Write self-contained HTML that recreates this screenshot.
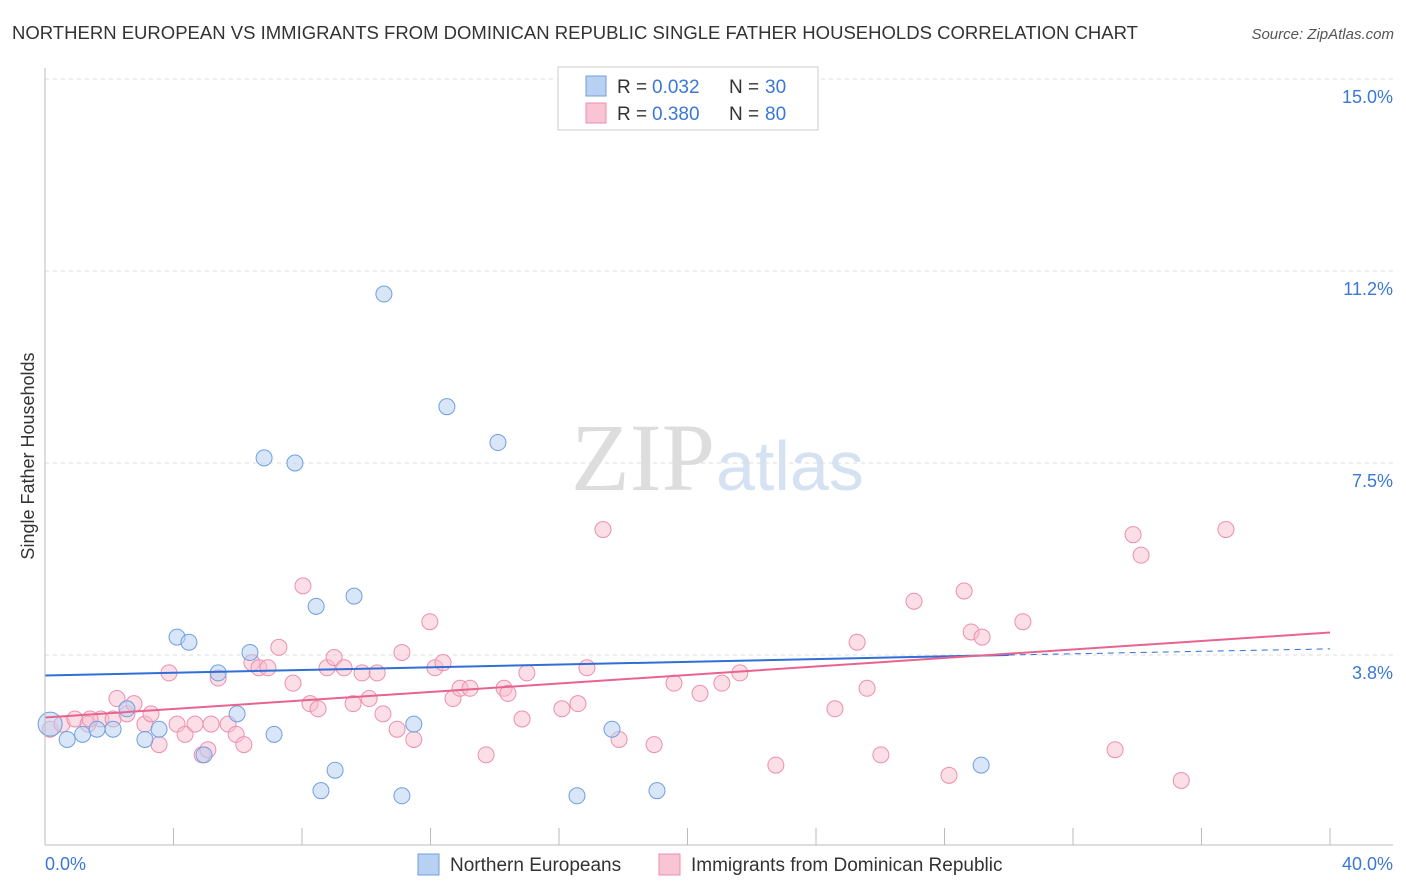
<!DOCTYPE html>
<html><head><meta charset="utf-8"><style>
body{margin:0;background:#fff;font-family:"Liberation Sans",sans-serif;}
#wrap{position:relative;width:1406px;height:892px;overflow:hidden;}
</style></head><body>
<div id="wrap">
<svg id="svg" width="1406" height="892" xmlns="http://www.w3.org/2000/svg">
<text x="12" y="39" font-size="18" fill="#333" textLength="1126" lengthAdjust="spacingAndGlyphs">NORTHERN EUROPEAN VS IMMIGRANTS FROM DOMINICAN REPUBLIC SINGLE FATHER HOUSEHOLDS CORRELATION CHART</text>
<text x="1394" y="39" font-size="15" fill="#555" font-style="italic" text-anchor="end">Source: ZipAtlas.com</text>
<text x="34" y="456" font-size="18" fill="#333" text-anchor="middle" transform="rotate(-90 34 456)">Single Father Households</text>
<text x="715" y="490" font-size="96" fill="#ddd" text-anchor="end" font-family="Liberation Serif,serif">ZIP</text>
<text x="716" y="490" font-size="70" fill="#d4e2f2">atlas</text>
<g id="grid"></g><g id="pts"></g><g id="lines"></g>
<line x1="45" y1="68" x2="45" y2="845" stroke="#bbb"/>
<line x1="45" y1="845" x2="1393" y2="845" stroke="#bbb"/>
<text x="45" y="870" font-size="18" fill="#3b78d6">0.0%</text>
<text x="1393" y="870" font-size="18" fill="#3b78d6" text-anchor="end">40.0%</text>
<g>
<rect x="558" y="67" width="260" height="63" fill="#fff" stroke="#ccc"/>
<rect x="586" y="76" width="20" height="20" fill="#b8d1f2" stroke="#6f9fdf"/>
<rect x="586" y="103" width="20" height="20" fill="#f9c4d4" stroke="#ec8fae"/>
<text x="617" y="93" font-size="19" fill="#333">R = </text><text x="652" y="93" font-size="19" fill="#3b78d6">0.032</text>
<text x="729" y="93" font-size="19" fill="#333">N = </text><text x="765" y="93" font-size="19" fill="#3b78d6">30</text>
<text x="617" y="120" font-size="19" fill="#333">R = </text><text x="652" y="120" font-size="19" fill="#3b78d6">0.380</text>
<text x="729" y="120" font-size="19" fill="#333">N = </text><text x="765" y="120" font-size="19" fill="#3b78d6">80</text>
</g>
<g>
<rect x="418" y="854" width="21" height="21" fill="#b8d1f2" stroke="#6f9fdf"/>
<text x="450" y="871" font-size="19" fill="#333">Northern Europeans</text>
<rect x="659" y="854" width="21" height="21" fill="#f9c4d4" stroke="#ec8fae"/>
<text x="691" y="871" font-size="19" fill="#333">Immigrants from Dominican Republic</text>
</g>
</svg>
<script>
const yTicks=[15.0,11.25,7.5,3.75];
const yTickLabels=["15.0%","11.2%","7.5%","3.8%"];
const xTicks=[0,4,8,12,16,20,24,28,32,36,40];
const blueX=[0.16,0.69,1.17,1.62,2.12,2.55,3.11,3.55,4.11,4.48,4.95,5.39,5.98,6.38,6.82,7.13,7.78,8.44,9.03,8.59,9.62,10.55,11.11,11.48,12.51,14.1,16.56,17.65,19.05,29.14];
const blueY=[2.4,2.1,2.2,2.3,2.3,2.7,2.1,2.3,4.1,4.0,1.8,3.4,2.6,3.8,7.6,2.2,7.5,4.7,1.5,1.1,4.9,10.8,1.0,2.4,8.6,7.9,1.0,2.3,1.1,1.6];
const pinkX=[0.16,0.53,0.93,1.34,1.74,2.12,2.24,2.55,2.77,3.11,3.3,3.55,3.86,4.11,4.36,4.67,4.89,5.17,5.39,5.7,5.95,6.19,6.44,6.66,6.94,7.28,7.72,8.03,8.25,8.5,8.78,9.0,9.31,9.59,9.87,10.09,10.34,10.52,10.96,11.11,11.48,11.98,12.14,12.39,12.7,12.92,13.23,13.73,14.29,14.41,14.85,15.0,16.09,16.59,16.87,17.37,17.87,18.96,19.58,20.39,21.07,21.63,22.75,24.59,25.28,25.59,26.02,27.05,28.14,28.61,28.83,29.17,30.44,33.31,33.87,34.12,35.37,36.76,1.4,5.07];
const pinkY=[2.3,2.4,2.5,2.4,2.5,2.5,2.9,2.6,2.8,2.4,2.6,2.0,3.4,2.4,2.2,2.4,1.8,2.4,3.3,2.4,2.2,2.0,3.6,3.5,3.5,3.9,3.2,5.1,2.8,2.7,3.5,3.7,3.5,2.8,3.4,2.9,3.4,2.6,2.3,3.8,2.1,4.4,3.5,3.6,2.9,3.1,3.1,1.8,3.1,3.0,2.5,3.4,2.7,2.8,3.5,6.2,2.1,2.0,3.2,3.0,3.2,3.4,1.6,2.7,4.0,3.1,1.8,4.8,1.4,5.0,4.2,4.1,4.4,1.9,6.1,5.7,1.3,6.2,2.5,1.9];
const blueTrend=[0,3.35,30,3.75,40,3.87];
const pinkTrend=[0,2.53,40,4.19];
const X=v=>45+v*32.125, Y=v=>79+(15-v)*51.2;
const NS="http://www.w3.org/2000/svg";
function mk(t,a,p){const e=document.createElementNS(NS,t);for(const k in a)e.setAttribute(k,a[k]);p.appendChild(e);return e;}
const grid=document.getElementById('grid'),pts=document.getElementById('pts'),lines=document.getElementById('lines');
yTicks.forEach((t,i)=>{
 const l=mk('line',{x1:45,x2:1393,y1:Y(t),y2:Y(t),stroke:'#ddd','stroke-dasharray':'4,4'},grid);
 
 
 const tx=mk('text',{x:1393,y:Y(t)+24,'font-size':18,fill:'#3b78d6','text-anchor':'end'},grid);
 tx.textContent=yTickLabels[i];
 
 
});
xTicks.forEach(t=>{
 const l=mk('line',{x1:X(t),x2:X(t),y1:828,y2:845,stroke:'#bbb'},grid);
 
 
});
pinkX.forEach((x,i)=>{
 const c=mk('circle',{cx:X(x),cy:Y(pinkY[i]),r:8,fill:'rgba(249,190,208,0.5)',stroke:'#ec8fae','stroke-width':1},pts);
 
 
});
blueX.forEach((x,i)=>{
 const c=mk('circle',{cx:X(x),cy:Y(blueY[i]),r:i==0?12:8,fill:'rgba(184,209,242,0.55)',stroke:'#6f9fdf','stroke-width':1},pts);
 
 
});
let b=mk('line',{x1:X(blueTrend[0]),y1:Y(blueTrend[1]),x2:X(blueTrend[2]),y2:Y(blueTrend[3]),stroke:'#2f6fd6','stroke-width':2},lines);


b=mk('line',{x1:X(blueTrend[2]),y1:Y(blueTrend[3]),x2:X(blueTrend[4]),y2:Y(blueTrend[5]),stroke:'#2f6fd6','stroke-width':1,'stroke-dasharray':'6,5'},lines);


const p=mk('line',{x1:X(pinkTrend[0]),y1:Y(pinkTrend[1]),x2:X(pinkTrend[2]),y2:Y(pinkTrend[3]),stroke:'#e8648f','stroke-width':2},lines);


</script>
</div></body></html>
